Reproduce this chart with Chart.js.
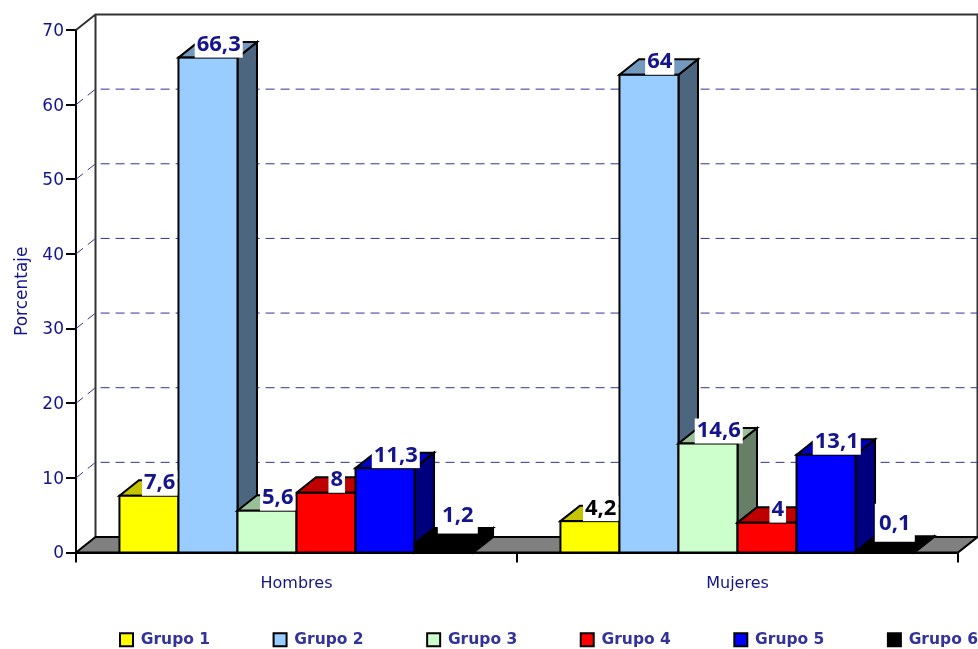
<!DOCTYPE html>
<html><head><meta charset="utf-8">
<style>html,body{margin:0;padding:0;background:#fff}canvas{display:block}</style>
<script src="https://cdn.jsdelivr.net/npm/chart.js@4/dist/chart.umd.js"></script>
</head><body><div style="width:978px;height:649px"><canvas id="c" width="978" height="649"></canvas></div>
<script>
const categories = ['Hombres', 'Mujeres'];
const seriesNames = ['Grupo 1', 'Grupo 2', 'Grupo 3', 'Grupo 4', 'Grupo 5', 'Grupo 6'];
const grupo1 = [7.6, 4.2];
const grupo2 = [66.3, 64];
const grupo3 = [5.6, 14.6];
const grupo4 = [8, 4];
const grupo5 = [11.3, 13.1];
const grupo6 = [1.2, 0.1];
const seriesValues = [grupo1, grupo2, grupo3, grupo4, grupo5, grupo6];
const seriesColors = ['#FFFF00', '#99CCFF', '#CCFFCC', '#FF0000', '#0000FF', '#000000'];
const topColors = ['#C4C400', '#7399BF', '#99BF99', '#BF0000', '#0000BF', '#000000'];
const sideColors = ['#7F7F00', '#4C667F', '#667F66', '#7F0000', '#00007F', '#000000'];

const NAVY = '#14148C', LEGEND = '#333399', DX = 19.5, DY = 15.5;
const FONT = '"DejaVu Sans"';
const LABEL_FONT = 'bold 22px "Open Sans"';
const fmt = v => String(v).replace('.', ',');

function poly(ctx, pts, fill, stroke, lw) {
  ctx.beginPath();
  pts.forEach((p, i) => i ? ctx.lineTo(p[0], p[1]) : ctx.moveTo(p[0], p[1]));
  ctx.closePath();
  if (fill) { ctx.fillStyle = fill; ctx.fill(); }
  if (stroke) { ctx.strokeStyle = stroke; ctx.lineWidth = lw || 2; ctx.stroke(); }
}

const scene = {
  id: 'scene',
  afterLayout(chart) {
    const lg = chart.legend;
    lg.left = 120 - lg.options.labels.padding;
    lg.right = 3000;
    lg.top = 632 - lg.options.labels.padding;
    lg.bottom = 800;
  },
  beforeDatasetDraw() { return false; },
  beforeDatasetsDraw(chart) {
    const { ctx, chartArea: a, scales: { y } } = chart;
    const b = y.getPixelForValue(0);
    ctx.save();
    ctx.lineJoin = 'miter';
    ctx.strokeStyle = '#333'; ctx.lineWidth = 2;
    ctx.beginPath();
    ctx.moveTo(a.left, a.top); ctx.lineTo(a.left + DX, a.top - DY);
    ctx.lineTo(a.right + DX, a.top - DY); ctx.lineTo(a.right + DX, b - DY);
    ctx.moveTo(a.left + DX, a.top - DY); ctx.lineTo(a.left + DX, b - DY);
    ctx.stroke();
    ctx.strokeStyle = LEGEND; ctx.lineWidth = 1; ctx.setLineDash([9, 6]);
    y.ticks.forEach(t => {
      if (t.value === 0 || t.value === 70) return;
      const py = y.getPixelForValue(t.value);
      ctx.beginPath();
      ctx.moveTo(a.left, py); ctx.lineTo(a.left + DX, py - DY);
      ctx.lineTo(a.right + DX, py - DY);
      ctx.stroke();
    });
    ctx.setLineDash([]);
    poly(ctx, [[a.left, b], [a.left + DX, b - DY], [a.right + DX, b - DY], [a.right, b]], '#808080', '#000', 2);
    chart.data.datasets.forEach((ds, i) => {
      const meta = chart.getDatasetMeta(i);
      meta.data.forEach(el => {
        const l = el.x - el.width / 2, r = el.x + el.width / 2, t = el.y;
        poly(ctx, [[r, t], [r + DX, t - DY], [r + DX, b - DY], [r, b]], sideColors[i], '#000', 2);
        poly(ctx, [[l, t], [l + DX, t - DY], [r + DX, t - DY], [r, t]], topColors[i], '#000', 2);
      });
      meta.controller.draw();
      meta.data.forEach(el => {
        ctx.fillStyle = seriesColors[i];
        ctx.fillRect(el.x - el.width / 2, el.y, el.width, b - el.y);
        ctx.strokeStyle = '#000'; ctx.lineWidth = 2;
        ctx.strokeRect(el.x - el.width / 2, el.y, el.width, b - el.y);
      });
    });
    ctx.restore();
  },
  afterDatasetsDraw(chart) {
    const { ctx } = chart;
    ctx.save();
    ctx.font = LABEL_FONT;
    ctx.textAlign = 'center';
    ctx.textBaseline = 'alphabetic';
    chart.data.datasets.forEach((ds, i) => {
      chart.getDatasetMeta(i).data.forEach((el, j) => {
        const v = ds.data[j], s = fmt(v);
        const small = v < 2;
        const w = small ? 40 : ctx.measureText(s).width + 4;
        const cx = el.x + DX / 2 + (small ? (v >= 1 ? 4 : 0) : 1);
        const bottom = el.y - (small ? 10 : 0);
        const h = small ? 38 : 25;
        ctx.fillStyle = '#fff';
        ctx.fillRect(cx - w / 2, bottom - h, w, h);
        ctx.fillStyle = (ds.labelInk && ds.labelInk[j]) || NAVY;
        ctx.fillText(s, cx, bottom - (small ? 12 : 6.5));
      });
    });
    ctx.restore();
  }
};

new Chart(document.getElementById('c'), {
  type: 'bar',
  plugins: [scene],
  data: {
    labels: categories,
    datasets: seriesNames.map((n, i) => ({
      label: n,
      data: seriesValues[i],
      backgroundColor: seriesColors[i],
      borderColor: '#000',
      borderWidth: 2,
      borderSkipped: false,
      categoryPercentage: 0.803,
      barPercentage: 1,
      labelInk: i === 0 ? [NAVY, '#000'] : null
    }))
  },
  options: {
    responsive: false,
    animation: false,
    layout: { padding: { top: 30, right: 20, left: 0, bottom: 0 } },
    plugins: {
      tooltip: { enabled: false },
      legend: {
        position: 'bottom',
        align: 'start',
        maxHeight: 30,
        labels: {
          boxWidth: 13, boxHeight: 13, padding: 63.5, color: LEGEND,
          font: { family: FONT, size: 15.5, weight: 'bold' }
        }
      }
    },
    scales: {
      x: {
        afterFit(s) { s.height = 66.5; },
        border: { color: '#000', width: 2 },
        grid: { display: true, offset: true, drawOnChartArea: false, drawTicks: true, tickLength: 10, color: '#000', lineWidth: 2 },
        ticks: { color: NAVY, padding: 12, maxRotation: 0, font: { family: FONT, size: 16 } }
      },
      y: {
        min: 0, max: 70,
        afterFit(s) { s.width = 76; },
        border: { color: '#000', width: 2 },
        grid: { display: true, drawOnChartArea: false, tickLength: 10, color: '#000', lineWidth: 2 },
        ticks: { stepSize: 10, color: NAVY, padding: 2, labelOffset: 1.5, font: { family: FONT, size: 17 } },
        title: { display: true, text: 'Porcentaje', color: NAVY, padding: { top: 12, bottom: 0 }, font: { family: FONT, size: 17 } }
      }
    }
  }
});
</script></body></html>
